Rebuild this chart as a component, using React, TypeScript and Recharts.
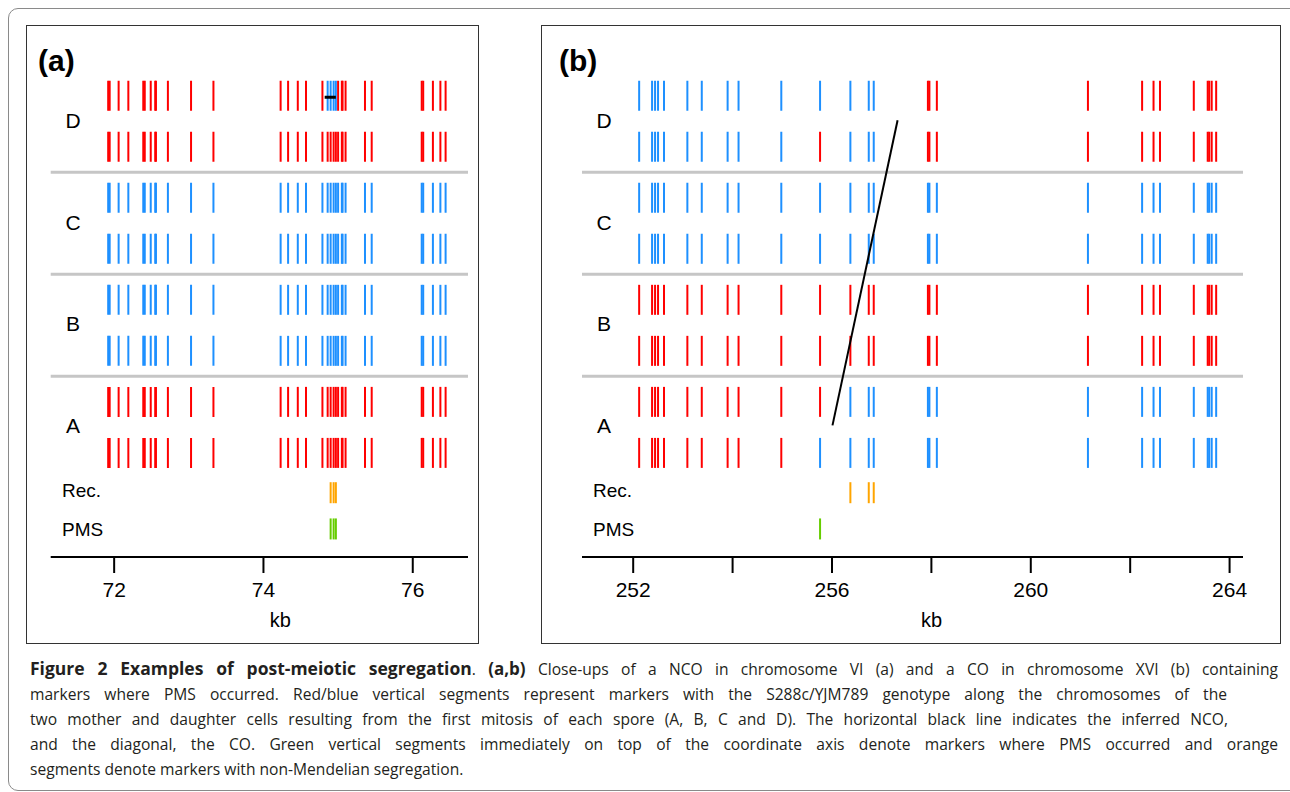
import { ScatterChart, Scatter, XAxis, YAxis, ReferenceLine } from 'recharts';

// marker positions (kb) and genotypes per chromatid row, r = S288c, b = YJM789
const posA = [
  71.92, 71.94, 72.06, 72.19, 72.39, 72.41, 72.49, 72.55, 72.56, 72.72, 73.03, 73.33,
  74.23, 74.33, 74.46, 74.57, 74.79, 74.86, 74.9, 74.94, 74.97, 75.0, 75.05, 75.06,
  75.1, 75.36, 75.45, 76.12, 76.14, 76.27, 76.37, 76.44,
];
const genoA = [
  'rrrrrrrrrrrrrrrrrbbbbrrrrrrrrrrr', // D
  'rrrrrrrrrrrrrrrrrrrrrrrrrrrrrrrr',
  'bbbbbbbbbbbbbbbbbbbbbbbbbbbbbbbb', // C
  'bbbbbbbbbbbbbbbbbbbbbbbbbbbbbbbb',
  'bbbbbbbbbbbbbbbbbbbbbbbbbbbbbbbb', // B
  'bbbbbbbbbbbbbbbbbbbbbbbbbbbbbbbb',
  'rrrrrrrrrrrrrrrrrrrrrrrrrrrrrrrr', // A
  'rrrrrrrrrrrrrrrrrrrrrrrrrrrrrrrr',
];
const recA = [74.9, 74.94, 74.97];
const pmsA = [74.9, 74.94, 74.97];
const ncoA = [{ x: 74.82, y: 0.03 }, { x: 74.97, y: 0.03 }];
const ticksA = [72, 74, 76];

const posB = [
  252.12, 252.38, 252.44, 252.5, 252.62, 253.09, 253.38, 253.9, 254.12, 254.98, 255.76,
  256.37, 256.74, 256.84, 257.93, 257.96, 258.11, 261.15, 262.24, 262.47, 262.6, 263.28,
  263.56, 263.59, 263.64, 263.73,
];
const genoB = [
  'bbbbbbbbbbbbbbrrrrrrrrrrrr', // D
  'bbbbbbbbbbrbbbrrrrrrrrrrrr',
  'bbbbbbbbbbbbbbbbbbbbbbbbbb', // C
  'bbbbbbbbbbbbbbbbbbbbbbbbbb',
  'rrrrrrrrrrrrrrrrrrrrrrrrrr', // B
  'rrrrrrrrrrrrrrrrrrrrrrrrrr',
  'rrrrrrrrrrrbbbbbbbbbbbbbbb', // A
  'rrrrrrrrrrbbbbbbbbbbbbbbbb',
];
const recB = [256.37, 256.74, 256.84];
const pmsB = [255.76];
const coB = [{ x: 257.32, y: 0.48 }, { x: 256.01, y: 6.46 }];
const ticksB = [252, 254, 256, 258, 260, 262, 264];
const labeledB = [252, 256, 260, 264];

const spores = ['D', 'C', 'B', 'A'];

const RED = '#ff0000';
const BLUE = '#1e90ff';
const ORANGE = '#ffa500';
const GREEN = '#66cd00';
const SANS = '"Liberation Sans", Arial, Helvetica, sans-serif';

const REC_ROW = 7.78;
const PMS_ROW = 8.49;

function buildPoints(pos: number[], geno: string[], rec: number[], pms: number[]) {
  const pts: { x: number; y: number; color: string; h: number }[] = [];
  geno.forEach((g, row) => {
    pos.forEach((x, i) => {
      pts.push({ x, y: row, color: g[i] === 'r' ? RED : BLUE, h: 30 });
    });
  });
  rec.forEach((x) => pts.push({ x, y: REC_ROW, color: ORANGE, h: 21 }));
  pms.forEach((x) => pts.push({ x, y: PMS_ROW, color: GREEN, h: 21 }));
  return pts;
}

const Segment = (props: any) => {
  const { cx, cy, payload } = props;
  if (cx == null || cy == null) return null;
  return (
    <line
      x1={cx}
      x2={cx}
      y1={cy - payload.h / 2}
      y2={cy + payload.h / 2}
      stroke={payload.color}
      strokeWidth={2}
    />
  );
};

const NoDot = () => <g />;

function Panel(props: {
  left: number;
  width: number;
  margin: { left: number; right: number };
  domain: [number, number];
  pos: number[];
  geno: string[];
  rec: number[];
  pms: number[];
  ticks: number[];
  labeled: number[];
  segment: { x: number; y: number }[];
  segWidth: number;
  tag: string;
  tagX: number;
  rowX: number;
  recX: number;
  kbDx: number;
}) {
  const data = buildPoints(props.pos, props.geno, props.rec, props.pms);
  return (
    <div style={{ position: 'absolute', left: props.left, top: 0, width: props.width, height: 650 }}>
      <ScatterChart
        width={props.width}
        height={650}
        margin={{ top: 70.2, bottom: 23, left: props.margin.left, right: props.margin.right }}
      >
        <XAxis
          type="number"
          dataKey="x"
          domain={props.domain}
          allowDataOverflow
          ticks={props.ticks}
          tickFormatter={(v: number) => (props.labeled.includes(v) ? String(v) : '')}
          height={70}
          tickSize={16}
          tickMargin={9}
          axisLine={{ stroke: '#000', strokeWidth: 2 }}
          tickLine={{ stroke: '#000', strokeWidth: 2 }}
          tick={{ fill: '#000', fontSize: 21, fontFamily: SANS }}
          label={{ value: 'kb', position: 'insideBottom', offset: 0, dx: props.kbDx, fill: '#000', fontSize: 20, fontFamily: SANS }}
        />
        <YAxis type="number" dataKey="y" domain={[-0.5, 9.04]} reversed hide allowDataOverflow />
        <ReferenceLine y={1.5} stroke="#c6c6c6" strokeWidth={3} />
        <ReferenceLine y={3.5} stroke="#c6c6c6" strokeWidth={3} />
        <ReferenceLine y={5.5} stroke="#c6c6c6" strokeWidth={3} />
        <Scatter data={data} shape={Segment} isAnimationActive={false} />
        <Scatter
          data={props.segment}
          shape={NoDot}
          line={{ stroke: '#000', strokeWidth: props.segWidth }}
          isAnimationActive={false}
        />
      </ScatterChart>
      <div style={{ position: 'absolute', left: props.tagX, top: 44, fontFamily: SANS, fontWeight: 'bold', fontSize: 30 }}>
        {props.tag}
      </div>
      {spores.map((s, i) => (
        <div
          key={s}
          style={{
            position: 'absolute',
            left: props.rowX - 20,
            width: 40,
            textAlign: 'center',
            top: 109 + i * 101.5,
            fontFamily: SANS,
            fontSize: 21,
          }}
        >
          {s}
        </div>
      ))}
      <div style={{ position: 'absolute', left: props.recX, top: 480, fontFamily: SANS, fontSize: 19 }}>Rec.</div>
      <div style={{ position: 'absolute', left: props.recX, top: 519, fontFamily: SANS, fontSize: 19 }}>PMS</div>
    </div>
  );
}

const lastLine = { display: 'block', whiteSpace: 'nowrap' as const };
const justified = (w: number) => ({
  display: 'block',
  width: w,
  textAlign: 'justify' as const,
  textAlignLast: 'justify' as const,
});

export default function App() {
  return (
    <div style={{ position: 'absolute', left: 0, top: 0, width: 1290, height: 792, background: '#fff', overflow: 'hidden' }}>
      <div
        style={{
          position: 'absolute',
          left: 8,
          top: 8,
          width: 1300,
          height: 781,
          border: '1px solid #8a8a8a',
          borderRadius: 10,
        }}
      />
      <div style={{ position: 'absolute', left: 26, top: 25, width: 451, height: 617, border: '1px solid #333' }} />
      <div style={{ position: 'absolute', left: 541, top: 25, width: 738, height: 617, border: '1px solid #333' }} />
      <Panel
        left={0}
        width={500}
        margin={{ left: 50.7, right: 32 }}
        domain={[71.15, 76.74]}
        pos={posA}
        geno={genoA}
        rec={recA}
        pms={pmsA}
        ticks={ticksA}
        labeled={ticksA}
        segment={ncoA}
        segWidth={3}
        tag="(a)"
        tagX={38}
        rowX={73}
        recX={62}
        kbDx={21}
      />
      <Panel
        left={540}
        width={750}
        margin={{ left: 42, right: 47 }}
        domain={[250.97, 264.27]}
        pos={posB}
        geno={genoB}
        rec={recB}
        pms={pmsB}
        ticks={ticksB}
        labeled={labeledB}
        segment={coB}
        segWidth={2}
        tag="(b)"
        tagX={19}
        rowX={64}
        recX={53}
        kbDx={19}
      />
      <div
        style={{
          position: 'absolute',
          left: 30,
          top: 656,
          width: 1248,
          fontFamily: '"Open Sans", sans-serif',
          fontSize: 15.6,
          lineHeight: '25px',
          color: '#231f20',
        }}
      >
        <span style={justified(1248)}>
          <b style={{ fontSize: 17.5 }}>Figure 2 Examples of post-meiotic segregation</b>.{' '}
          <b style={{ fontSize: 17 }}>(a,b)</b> Close-ups of a NCO in chromosome VI (a) and a CO in chromosome XVI (b) containing
        </span>
        <span style={justified(1197)}>
          markers where PMS occurred. Red/blue vertical segments represent markers with the S288c/YJM789 genotype along the chromosomes of the
        </span>
        <span style={justified(1198)}>
          two mother and daughter cells resulting from the first mitosis of each spore (A, B, C and D). The horizontal black line indicates the inferred NCO,
        </span>
        <span style={justified(1248)}>
          and the diagonal, the CO. Green vertical segments immediately on top of the coordinate axis denote markers where PMS occurred and orange
        </span>
        <span style={lastLine}>segments denote markers with non-Mendelian segregation.</span>
      </div>
    </div>
  );
}
